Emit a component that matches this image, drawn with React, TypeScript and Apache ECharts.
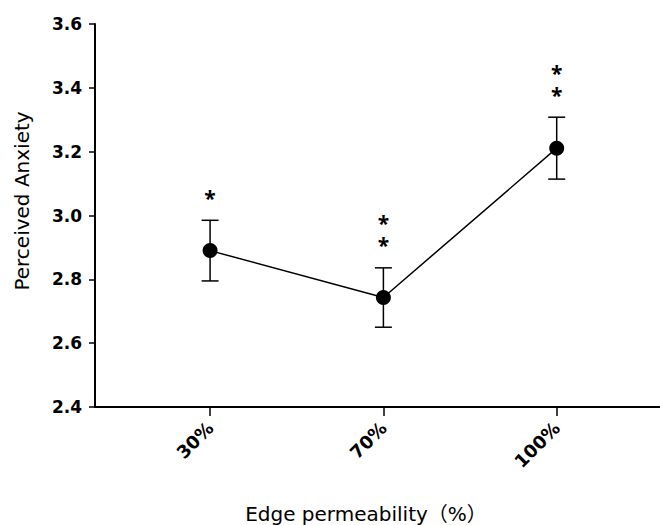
import React, { useEffect, useRef } from "react";
import * as echarts from "echarts";

// Group labels along the x axis
const categories = ["30%", "70%", "100%"];
// Mean perceived anxiety per group
const means = [2.89, 2.743, 3.211];
// Error bar half-length (SEM) per group
const errors = [0.095, 0.093, 0.097];
// Significance markers above each group
const significance = ["*", "**", "**"];
// Y axis range
const yMin = 2.4;
const yMax = 3.6;
const yStep = 0.2;

const FONT = "'DejaVu Sans', 'Noto Sans CJK SC', sans-serif";
const STAR_FONT = "'Open Sans', 'Liberation Sans', sans-serif";

export default function App() {
  const ref = useRef<HTMLDivElement>(null);

  useEffect(() => {
    if (!ref.current) return;
    const chart = echarts.init(ref.current, undefined, { renderer: "svg" });

    const idx = categories.map((_, i) => i);
    const lineData = means.map((m, i) => [i, m]);
    const errData = means.map((m, i) => [i, m - errors[i], m + errors[i]]);
    const sigData = means.map((m, i) => [i, m + errors[i], significance[i]]);

    chart.setOption({
      animation: false,
      backgroundColor: "#ffffff",
      grid: { left: 95, right: 0, top: 24, bottom: 118, containLabel: false },
      xAxis: {
        type: "value",
        min: -0.664,
        max: 2.596,
        splitLine: { show: false },
        axisLine: { show: true, onZero: false, lineStyle: { color: "#000", width: 2 } },
        axisTick: {
          show: true,
          customValues: idx,
          length: 9,
          lineStyle: { color: "#000", width: 1.5 },
        },
        axisLabel: {
          customValues: idx,
          rotate: 45,
          margin: 18,
          color: "#000",
          fontFamily: FONT,
          fontWeight: "bold",
          fontSize: 18,
          formatter: (v: number) => categories[Math.round(v)] ?? "",
        },
      },
      yAxis: {
        type: "value",
        min: yMin,
        max: yMax,
        interval: yStep,
        splitLine: { show: false },
        axisLine: { show: true, onZero: false, lineStyle: { color: "#000", width: 2 } },
        axisTick: { show: true, length: 6, lineStyle: { color: "#000", width: 1.5 } },
        axisLabel: {
          margin: 13,
          color: "#000",
          fontFamily: FONT,
          fontWeight: "bold",
          fontSize: 17,
          formatter: (v: number) => v.toFixed(1),
        },
      },
      graphic: [
        {
          type: "text",
          x: 22,
          y: 201,
          rotation: Math.PI / 2,
          style: {
            text: "Perceived Anxiety",
            fontFamily: FONT,
            fontSize: 20,
            fill: "#000",
            textAlign: "center",
            textVerticalAlign: "middle",
          },
        },
        {
          type: "text",
          x: 366,
          y: 514,
          style: {
            text: "Edge permeability（%）",
            fontFamily: FONT,
            fontSize: 20,
            fill: "#000",
            textAlign: "center",
            textVerticalAlign: "middle",
          },
        },
      ],
      series: [
        {
          type: "custom",
          data: errData,
          z: 3,
          renderItem: (params: any, api: any) => {
            const x = api.value(0);
            const lo = api.coord([x, api.value(1)]);
            const hi = api.coord([x, api.value(2)]);
            const hw = 8.5;
            const style = { stroke: "#000", lineWidth: 1.5 };
            return {
              type: "group",
              children: [
                { type: "line", shape: { x1: lo[0], y1: lo[1], x2: hi[0], y2: hi[1] }, style },
                { type: "line", shape: { x1: hi[0] - hw, y1: hi[1], x2: hi[0] + hw, y2: hi[1] }, style },
                { type: "line", shape: { x1: lo[0] - hw, y1: lo[1], x2: lo[0] + hw, y2: lo[1] }, style },
              ],
            };
          },
        },
        {
          type: "line",
          data: lineData,
          z: 4,
          symbol: "circle",
          symbolSize: 15,
          lineStyle: { color: "#000", width: 1.5 },
          itemStyle: { color: "#000" },
        },
        {
          type: "custom",
          data: sigData,
          z: 5,
          renderItem: (params: any, api: any) => {
            const x = api.value(0);
            const top = api.coord([x, api.value(1)]);
            const marks = String(api.value(2));
            // one asterisk per text, stacked upwards from just above the cap
            const children = marks.split("").map((m, k) => ({
              type: "text",
              x: top[0],
              y: top[1] - 12 - k * 22,
              style: {
                text: m,
                fontFamily: STAR_FONT,
                fontSize: 21,
                fontWeight: "bold",
                fill: "#000",
                textAlign: "center",
                textVerticalAlign: "bottom",
              },
            }));
            return { type: "group", children };
          },
        },
      ],
    });

    return () => chart.dispose();
  }, []);

  return (
    <div
      ref={ref}
      style={{ position: "absolute", left: 0, top: 0, width: 660, height: 525 }}
    />
  );
}
